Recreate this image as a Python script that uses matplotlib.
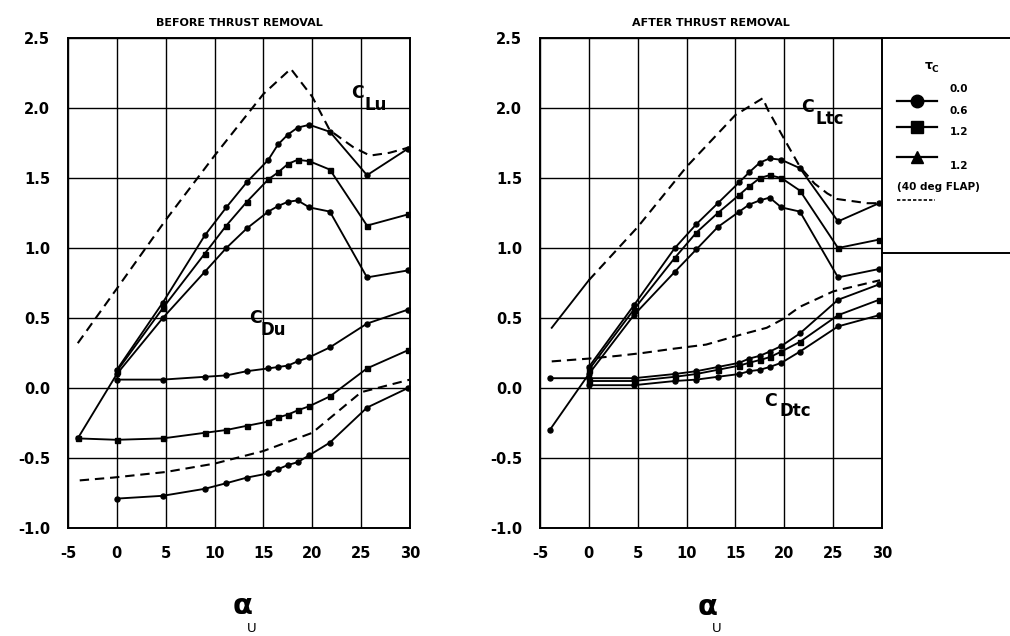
import matplotlib
matplotlib.use("Agg")
import matplotlib.pyplot as plt
from matplotlib.lines import Line2D

W, H = 1010, 636

# ---- before thrust removal (left panel) ----
left_alpha = [0, 4.7, 9.0, 11.2, 13.3, 15.5, 16.5, 17.5, 18.5, 19.7, 21.8, 25.6, 29.8]
left_alpha_ext = [-4.0] + left_alpha

cl_u_hi = [0.13, 0.61, 1.09, 1.29, 1.47, 1.63, 1.74, 1.81, 1.86, 1.88, 1.83, 1.52, 1.71]
cl_u_mid = [0.12, 0.57, 0.96, 1.16, 1.33, 1.49, 1.54, 1.60, 1.63, 1.62, 1.56, 1.16, 1.24]
cl_u_lo = [-0.36, 0.10, 0.50, 0.83, 1.00, 1.14, 1.26, 1.30, 1.33, 1.34, 1.29, 1.26, 0.79, 0.84]

cd_u_hi = [0.06, 0.06, 0.08, 0.09, 0.12, 0.14, 0.15, 0.16, 0.19, 0.22, 0.29, 0.46, 0.56]
cd_u_mid = [-0.36, -0.37, -0.36, -0.32, -0.30, -0.27, -0.24, -0.21, -0.19, -0.16, -0.13,
            -0.06, 0.14, 0.27]
cd_u_lo = [-0.79, -0.77, -0.72, -0.68, -0.64, -0.61, -0.58, -0.55, -0.53, -0.48, -0.39,
           -0.14, 0.0]

flap_cl_u_alpha = [-4.0, 0, 5, 10, 15, 17.8, 20, 21.8, 24.2, 25.9, 27.9, 30]
flap_cl_u = [0.32, 0.71, 1.20, 1.66, 2.10, 2.28, 2.08, 1.84, 1.72, 1.66, 1.68, 1.72]
flap_cd_u_alpha = [-3.8, -0.4, 5, 10, 15, 20, 25, 30]
flap_cd_u = [-0.66, -0.64, -0.60, -0.54, -0.45, -0.32, -0.03, 0.06]

# ---- after thrust removal (right panel) ----
right_alpha = [0, 4.6, 8.8, 11.0, 13.2, 15.4, 16.4, 17.5, 18.5, 19.7, 21.6, 25.5, 29.7]
right_alpha_ext = [-4.0] + right_alpha

cl_tc_hi = [0.15, 0.59, 1.00, 1.17, 1.32, 1.47, 1.54, 1.61, 1.64, 1.63, 1.57, 1.19, 1.32]
cl_tc_mid = [0.13, 0.56, 0.93, 1.11, 1.25, 1.38, 1.44, 1.50, 1.52, 1.50, 1.41, 1.00, 1.06]
cl_tc_lo = [-0.30, 0.10, 0.52, 0.83, 0.99, 1.15, 1.26, 1.31, 1.34, 1.36, 1.29, 1.26, 0.79, 0.85]

cd_tc_hi = [0.07, 0.07, 0.07, 0.10, 0.12, 0.15, 0.18, 0.21, 0.23, 0.26, 0.30, 0.39, 0.63, 0.74]
cd_tc_mid = [0.05, 0.05, 0.08, 0.10, 0.13, 0.16, 0.18, 0.20, 0.22, 0.26, 0.33, 0.52, 0.63]
cd_tc_lo = [0.02, 0.02, 0.05, 0.06, 0.08, 0.10, 0.12, 0.13, 0.15, 0.18, 0.26, 0.44, 0.52]

flap_cl_tc_alpha = [-3.8, 0, 5, 10, 15, 17.8, 18.3, 19.9, 21.6, 23.1, 24.4, 25.4, 28.5, 29.8]
flap_cl_tc = [0.43, 0.77, 1.15, 1.58, 1.95, 2.07, 1.99, 1.79, 1.58, 1.46, 1.39, 1.35, 1.32, 1.32]
flap_cd_tc_alpha = [-3.8, 0, 3, 5.5, 8.6, 12, 15.5, 18.2, 19.8, 21.6, 25, 29.8]
flap_cd_tc = [0.19, 0.21, 0.23, 0.25, 0.28, 0.31, 0.38, 0.43, 0.49, 0.58, 0.69, 0.77]

x_ticks = [-5, 0, 5, 10, 15, 20, 25, 30]
y_ticks = [-1.0, -0.5, 0.0, 0.5, 1.0, 1.5, 2.0, 2.5]
tc_labels = ["0.0", "0.6", "1.2", "1.2"]

LW = 1.35
DASH = (4.5, 2.8)


def box(x0, y0, x1, y1):
    # pixel box -> figure fraction rect
    return [x0 / W, 1 - y1 / H, (x1 - x0) / W, (y1 - y0) / H]


def setup_axes(ax, title):
    ax.set_xlim(-5, 30)
    ax.set_ylim(-1.0, 2.5)
    ax.set_xticks(x_ticks)
    ax.set_yticks(y_ticks)
    ax.set_xticklabels([str(t) for t in x_ticks])
    ax.set_yticklabels([f"{t:.1f}" for t in y_ticks])
    ax.tick_params(length=0, pad=13, labelsize=10.5)
    for lab in ax.get_xticklabels() + ax.get_yticklabels():
        lab.set_fontweight("bold")
    ax.grid(True, color="black", linewidth=1.0)
    for s in ax.spines.values():
        s.set_linewidth(1.4)
    ax.set_title(title, fontsize=8, fontweight="bold", pad=9)


def curve(ax, x, y, marker):
    ax.plot(x, y, color="black", linewidth=LW, marker=marker, markersize=3.6,
            markerfacecolor="black", markeredgecolor="black", zorder=3)


def dashed(ax, x, y):
    ax.plot(x, y, color="black", linewidth=1.5, linestyle=(0, DASH), zorder=3)


def label(ax, x, y, main, sub, dx, dy):
    ax.text(x, y, main, fontsize=12.5, fontweight="bold", ha="center", va="center")
    ax.text(x + dx, y + dy, sub, fontsize=12, fontweight="bold", ha="center", va="center")


fig = plt.figure(figsize=(W / 100, H / 100), dpi=100)

ax1 = fig.add_axes(box(68, 38, 410, 528))
setup_axes(ax1, "BEFORE THRUST REMOVAL")
curve(ax1, left_alpha, cl_u_hi, "o")
curve(ax1, left_alpha, cl_u_mid, "s")
curve(ax1, left_alpha_ext, cl_u_lo, "o")
curve(ax1, left_alpha, cd_u_hi, "o")
curve(ax1, left_alpha_ext, cd_u_mid, "s")
curve(ax1, left_alpha, cd_u_lo, "o")
dashed(ax1, flap_cl_u_alpha, flap_cl_u)
dashed(ax1, flap_cd_u_alpha, flap_cd_u)
label(ax1, 24.6, 2.11, "C", "Lu", 1.9, -0.085)
label(ax1, 14.2, 0.50, "C", "Du", 1.8, -0.085)

ax2 = fig.add_axes(box(540, 38, 882, 528))
setup_axes(ax2, "AFTER THRUST REMOVAL")
curve(ax2, right_alpha, cl_tc_hi, "o")
curve(ax2, right_alpha, cl_tc_mid, "s")
curve(ax2, right_alpha_ext, cl_tc_lo, "o")
curve(ax2, right_alpha_ext, cd_tc_hi, "o")
curve(ax2, right_alpha, cd_tc_mid, "s")
curve(ax2, right_alpha, cd_tc_lo, "o")
# first flap segment is drawn solid in the original
ax2.plot(flap_cl_tc_alpha[:2], flap_cl_tc[:2], color="black", linewidth=LW, zorder=3)
dashed(ax2, flap_cl_tc_alpha[1:], flap_cl_tc[1:])
dashed(ax2, flap_cd_tc_alpha, flap_cd_tc)
label(ax2, 22.4, 2.01, "C", "Ltc", 2.3, -0.09)
label(ax2, 18.6, -0.09, "C", "Dtc", 2.5, -0.075)

# x-axis symbols
for cx, cy in [(243, 606), (708, 607)]:
    fig.text(cx / W, 1 - cy / H, "α", fontsize=21, fontweight="bold",
             ha="center", va="center")
    fig.text((cx + 9) / W, 1 - (cy + 22) / H, "U", fontsize=9.5,
             ha="center", va="center")

# legend box to the right of the second panel
lg = fig.add_axes(box(882, 38, 1010, 253))
lg.set_xlim(0, 128)
lg.set_ylim(215, 0)
lg.set_xticks([])
lg.set_yticks([])
lg.patch.set_alpha(0)
lg.spines["left"].set_visible(False)
lg.spines["right"].set_visible(False)
lg.spines["top"].set_linewidth(1.4)
lg.spines["bottom"].set_linewidth(1.4)

lg.text(47, 27, "τ", fontsize=9, fontweight="bold", ha="center", va="center")
lg.text(53, 31, "C", fontsize=6.5, fontweight="bold", ha="center", va="center")
for yy, mk, ms in [(63, "o", 9), (89, "s", 8.5), (119, "^", 9)]:
    lg.add_line(Line2D([15, 55], [yy, yy], color="black", linewidth=1.6))
    lg.plot([35], [yy], marker=mk, markersize=ms, color="black")
for yy, txt in zip([51, 73, 94, 128], tc_labels):
    lg.text(77, yy, txt, fontsize=7.5, fontweight="bold", ha="center", va="center")
lg.text(56, 149, "(40 deg FLAP)", fontsize=7.5, fontweight="bold",
        ha="center", va="center")
lg.add_line(Line2D([15, 53], [162, 162], color="black", linewidth=1.2,
                   linestyle=(0, (2, 1.2))))

fig.savefig("out.png", dpi=100)
